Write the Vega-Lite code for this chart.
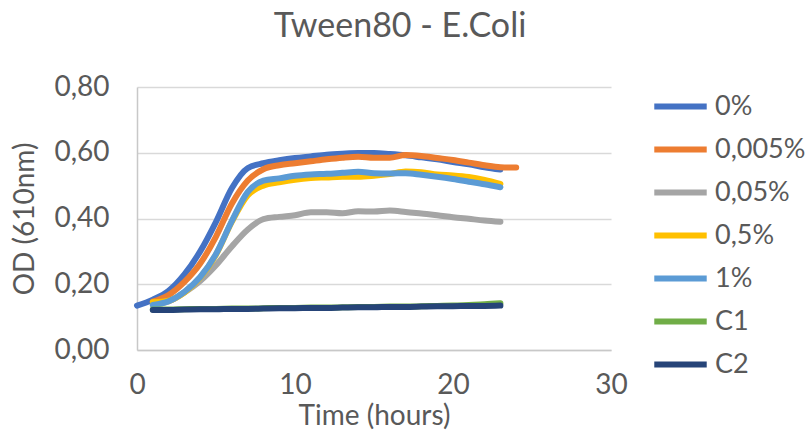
{
  "$schema": "https://vega.github.io/schema/vega-lite/v6.json",
  "autosize": "none",
  "width": 474,
  "height": 263,
  "padding": {"left": 137, "top": 87, "right": 197, "bottom": 88},
  "background": "white",
  "title": {"text": "Tween80 - E.Coli", "font": "Lato", "fontSize": 34, "fontWeight": "normal", "color": "#595959", "anchor": "middle", "frame": "group", "dx": 26, "offset": 29},
  "config": {
    "view": {"stroke": null},
    "font": "Lato"
  },
  "data": {"values": [
    {"t": 0, "s": "0%", "od": 0.135}, {"t": 1, "s": "0%", "od": 0.153}, {"t": 2, "s": "0%", "od": 0.180}, {"t": 3, "s": "0%", "od": 0.230}, {"t": 4, "s": "0%", "od": 0.300}, {"t": 5, "s": "0%", "od": 0.390}, {"t": 6, "s": "0%", "od": 0.492}, {"t": 7, "s": "0%", "od": 0.553}, {"t": 8, "s": "0%", "od": 0.568}, {"t": 9, "s": "0%", "od": 0.577}, {"t": 10, "s": "0%", "od": 0.584}, {"t": 11, "s": "0%", "od": 0.589}, {"t": 12, "s": "0%", "od": 0.594}, {"t": 13, "s": "0%", "od": 0.597}, {"t": 14, "s": "0%", "od": 0.599}, {"t": 15, "s": "0%", "od": 0.599}, {"t": 16, "s": "0%", "od": 0.596}, {"t": 17, "s": "0%", "od": 0.592}, {"t": 18, "s": "0%", "od": 0.586}, {"t": 19, "s": "0%", "od": 0.580}, {"t": 20, "s": "0%", "od": 0.572}, {"t": 21, "s": "0%", "od": 0.565}, {"t": 22, "s": "0%", "od": 0.556}, {"t": 23, "s": "0%", "od": 0.549},
    {"t": 1, "s": "0,005%", "od": 0.147}, {"t": 2, "s": "0,005%", "od": 0.167}, {"t": 3, "s": "0,005%", "od": 0.207}, {"t": 4, "s": "0,005%", "od": 0.263}, {"t": 5, "s": "0,005%", "od": 0.345}, {"t": 6, "s": "0,005%", "od": 0.445}, {"t": 7, "s": "0,005%", "od": 0.515}, {"t": 8, "s": "0,005%", "od": 0.550}, {"t": 9, "s": "0,005%", "od": 0.562}, {"t": 10, "s": "0,005%", "od": 0.568}, {"t": 11, "s": "0,005%", "od": 0.574}, {"t": 12, "s": "0,005%", "od": 0.580}, {"t": 13, "s": "0,005%", "od": 0.585}, {"t": 14, "s": "0,005%", "od": 0.588}, {"t": 15, "s": "0,005%", "od": 0.585}, {"t": 16, "s": "0,005%", "od": 0.585}, {"t": 17, "s": "0,005%", "od": 0.593}, {"t": 18, "s": "0,005%", "od": 0.590}, {"t": 19, "s": "0,005%", "od": 0.584}, {"t": 20, "s": "0,005%", "od": 0.578}, {"t": 21, "s": "0,005%", "od": 0.570}, {"t": 22, "s": "0,005%", "od": 0.562}, {"t": 23, "s": "0,005%", "od": 0.556}, {"t": 24, "s": "0,005%", "od": 0.555},
    {"t": 1, "s": "0,05%", "od": 0.137}, {"t": 2, "s": "0,05%", "od": 0.148}, {"t": 3, "s": "0,05%", "od": 0.175}, {"t": 4, "s": "0,05%", "od": 0.210}, {"t": 5, "s": "0,05%", "od": 0.258}, {"t": 6, "s": "0,05%", "od": 0.315}, {"t": 7, "s": "0,05%", "od": 0.366}, {"t": 8, "s": "0,05%", "od": 0.398}, {"t": 9, "s": "0,05%", "od": 0.405}, {"t": 10, "s": "0,05%", "od": 0.410}, {"t": 11, "s": "0,05%", "od": 0.419}, {"t": 12, "s": "0,05%", "od": 0.419}, {"t": 13, "s": "0,05%", "od": 0.416}, {"t": 14, "s": "0,05%", "od": 0.422}, {"t": 15, "s": "0,05%", "od": 0.421}, {"t": 16, "s": "0,05%", "od": 0.424}, {"t": 17, "s": "0,05%", "od": 0.420}, {"t": 18, "s": "0,05%", "od": 0.415}, {"t": 19, "s": "0,05%", "od": 0.410}, {"t": 20, "s": "0,05%", "od": 0.404}, {"t": 21, "s": "0,05%", "od": 0.399}, {"t": 22, "s": "0,05%", "od": 0.394}, {"t": 23, "s": "0,05%", "od": 0.390},
    {"t": 1, "s": "0,5%", "od": 0.145}, {"t": 2, "s": "0,5%", "od": 0.150}, {"t": 3, "s": "0,5%", "od": 0.175}, {"t": 4, "s": "0,5%", "od": 0.220}, {"t": 5, "s": "0,5%", "od": 0.290}, {"t": 6, "s": "0,5%", "od": 0.390}, {"t": 7, "s": "0,5%", "od": 0.470}, {"t": 8, "s": "0,5%", "od": 0.500}, {"t": 9, "s": "0,5%", "od": 0.510}, {"t": 10, "s": "0,5%", "od": 0.518}, {"t": 11, "s": "0,5%", "od": 0.523}, {"t": 12, "s": "0,5%", "od": 0.525}, {"t": 13, "s": "0,5%", "od": 0.527}, {"t": 14, "s": "0,5%", "od": 0.527}, {"t": 15, "s": "0,5%", "od": 0.530}, {"t": 16, "s": "0,5%", "od": 0.535}, {"t": 17, "s": "0,5%", "od": 0.543}, {"t": 18, "s": "0,5%", "od": 0.541}, {"t": 19, "s": "0,5%", "od": 0.534}, {"t": 20, "s": "0,5%", "od": 0.531}, {"t": 21, "s": "0,5%", "od": 0.526}, {"t": 22, "s": "0,5%", "od": 0.517}, {"t": 23, "s": "0,5%", "od": 0.505},
    {"t": 1, "s": "1%", "od": 0.137}, {"t": 2, "s": "1%", "od": 0.148}, {"t": 3, "s": "1%", "od": 0.177}, {"t": 4, "s": "1%", "od": 0.222}, {"t": 5, "s": "1%", "od": 0.292}, {"t": 6, "s": "1%", "od": 0.392}, {"t": 7, "s": "1%", "od": 0.480}, {"t": 8, "s": "1%", "od": 0.515}, {"t": 9, "s": "1%", "od": 0.522}, {"t": 10, "s": "1%", "od": 0.530}, {"t": 11, "s": "1%", "od": 0.534}, {"t": 12, "s": "1%", "od": 0.536}, {"t": 13, "s": "1%", "od": 0.539}, {"t": 14, "s": "1%", "od": 0.542}, {"t": 15, "s": "1%", "od": 0.538}, {"t": 16, "s": "1%", "od": 0.537}, {"t": 17, "s": "1%", "od": 0.538}, {"t": 18, "s": "1%", "od": 0.533}, {"t": 19, "s": "1%", "od": 0.527}, {"t": 20, "s": "1%", "od": 0.520}, {"t": 21, "s": "1%", "od": 0.512}, {"t": 22, "s": "1%", "od": 0.504}, {"t": 23, "s": "1%", "od": 0.495},
    {"t": 1, "s": "C1", "od": 0.123}, {"t": 2, "s": "C1", "od": 0.123}, {"t": 3, "s": "C1", "od": 0.124}, {"t": 4, "s": "C1", "od": 0.125}, {"t": 5, "s": "C1", "od": 0.125}, {"t": 6, "s": "C1", "od": 0.126}, {"t": 7, "s": "C1", "od": 0.126}, {"t": 8, "s": "C1", "od": 0.127}, {"t": 9, "s": "C1", "od": 0.128}, {"t": 10, "s": "C1", "od": 0.128}, {"t": 11, "s": "C1", "od": 0.129}, {"t": 12, "s": "C1", "od": 0.129}, {"t": 13, "s": "C1", "od": 0.130}, {"t": 14, "s": "C1", "od": 0.131}, {"t": 15, "s": "C1", "od": 0.131}, {"t": 16, "s": "C1", "od": 0.132}, {"t": 17, "s": "C1", "od": 0.132}, {"t": 18, "s": "C1", "od": 0.133}, {"t": 19, "s": "C1", "od": 0.134}, {"t": 20, "s": "C1", "od": 0.135}, {"t": 21, "s": "C1", "od": 0.137}, {"t": 22, "s": "C1", "od": 0.139}, {"t": 23, "s": "C1", "od": 0.142},
    {"t": 1, "s": "C2", "od": 0.122}, {"t": 2, "s": "C2", "od": 0.122}, {"t": 3, "s": "C2", "od": 0.123}, {"t": 4, "s": "C2", "od": 0.124}, {"t": 5, "s": "C2", "od": 0.124}, {"t": 6, "s": "C2", "od": 0.125}, {"t": 7, "s": "C2", "od": 0.125}, {"t": 8, "s": "C2", "od": 0.126}, {"t": 9, "s": "C2", "od": 0.127}, {"t": 10, "s": "C2", "od": 0.127}, {"t": 11, "s": "C2", "od": 0.128}, {"t": 12, "s": "C2", "od": 0.128}, {"t": 13, "s": "C2", "od": 0.129}, {"t": 14, "s": "C2", "od": 0.130}, {"t": 15, "s": "C2", "od": 0.130}, {"t": 16, "s": "C2", "od": 0.131}, {"t": 17, "s": "C2", "od": 0.131}, {"t": 18, "s": "C2", "od": 0.132}, {"t": 19, "s": "C2", "od": 0.133}, {"t": 20, "s": "C2", "od": 0.133}, {"t": 21, "s": "C2", "od": 0.134}, {"t": 22, "s": "C2", "od": 0.134}, {"t": 23, "s": "C2", "od": 0.135}
  ]},
  "mark": {"type": "line", "interpolate": "monotone", "strokeCap": "round", "strokeJoin": "round"},
  "encoding": {
    "x": {"field": "t", "type": "quantitative",
      "scale": {"domain": [0, 30], "nice": false},
      "axis": {"values": [0, 10, 20, 30], "title": "Time (hours)", "grid": false, "ticks": false, "labelFlush": false,
        "domainColor": "#C8C8C8", "domainWidth": 1.5,
        "labelFont": "Lato", "labelFontSize": 28, "labelColor": "#595959", "labelPadding": 21,
        "titleFont": "Lato", "titleFontSize": 28, "titleFontWeight": "normal", "titleColor": "#595959", "titlePadding": 3}},
    "y": {"field": "od", "type": "quantitative",
      "scale": {"domain": [0, 0.8], "nice": false},
      "axis": {"values": [0, 0.2, 0.4, 0.6, 0.8], "title": "OD (610nm)", "grid": true, "gridColor": "#D9D9D9", "gridWidth": 1.5, "ticks": false,
        "domainColor": "#C8C8C8", "domainWidth": 1.5,
        "labelExpr": "replace(format(datum.value, '.2f'), '.', ',')",
        "labelFont": "Lato", "labelFontSize": 28, "labelColor": "#595959", "labelPadding": 28,
        "titleFont": "Lato", "titleFontSize": 28, "titleFontWeight": "normal", "titleColor": "#595959", "titlePadding": 14}},
    "color": {"field": "s", "type": "nominal",
      "scale": {"domain": ["0%", "0,005%", "0,05%", "0,5%", "1%", "C1", "C2"], "range": ["#4472C4", "#ED7D31", "#A5A5A5", "#FFC000", "#5B9BD5", "#70AD47", "#264478"]},
      "legend": {"title": null, "orient": "none", "legendX": 514, "legendY": -10, "symbolType": "stroke", "symbolSize": 2750, "symbolStrokeWidth": 6,
        "labelFont": "Lato", "labelFontSize": 27, "labelColor": "#595959", "labelOffset": 5, "rowPadding": 0, "padding": 0,
        "encode": {"symbols": {"update": {"strokeWidth": {"signal": "datum.value === 'C1' ? 3.5 : 6"}}}}}},
    "strokeWidth": {"field": "s", "type": "nominal",
      "scale": {"domain": ["0%", "0,005%", "0,05%", "0,5%", "1%", "C1", "C2"], "range": [6, 6, 6, 6, 6, 3, 6]},
      "legend": null}
  }
}
